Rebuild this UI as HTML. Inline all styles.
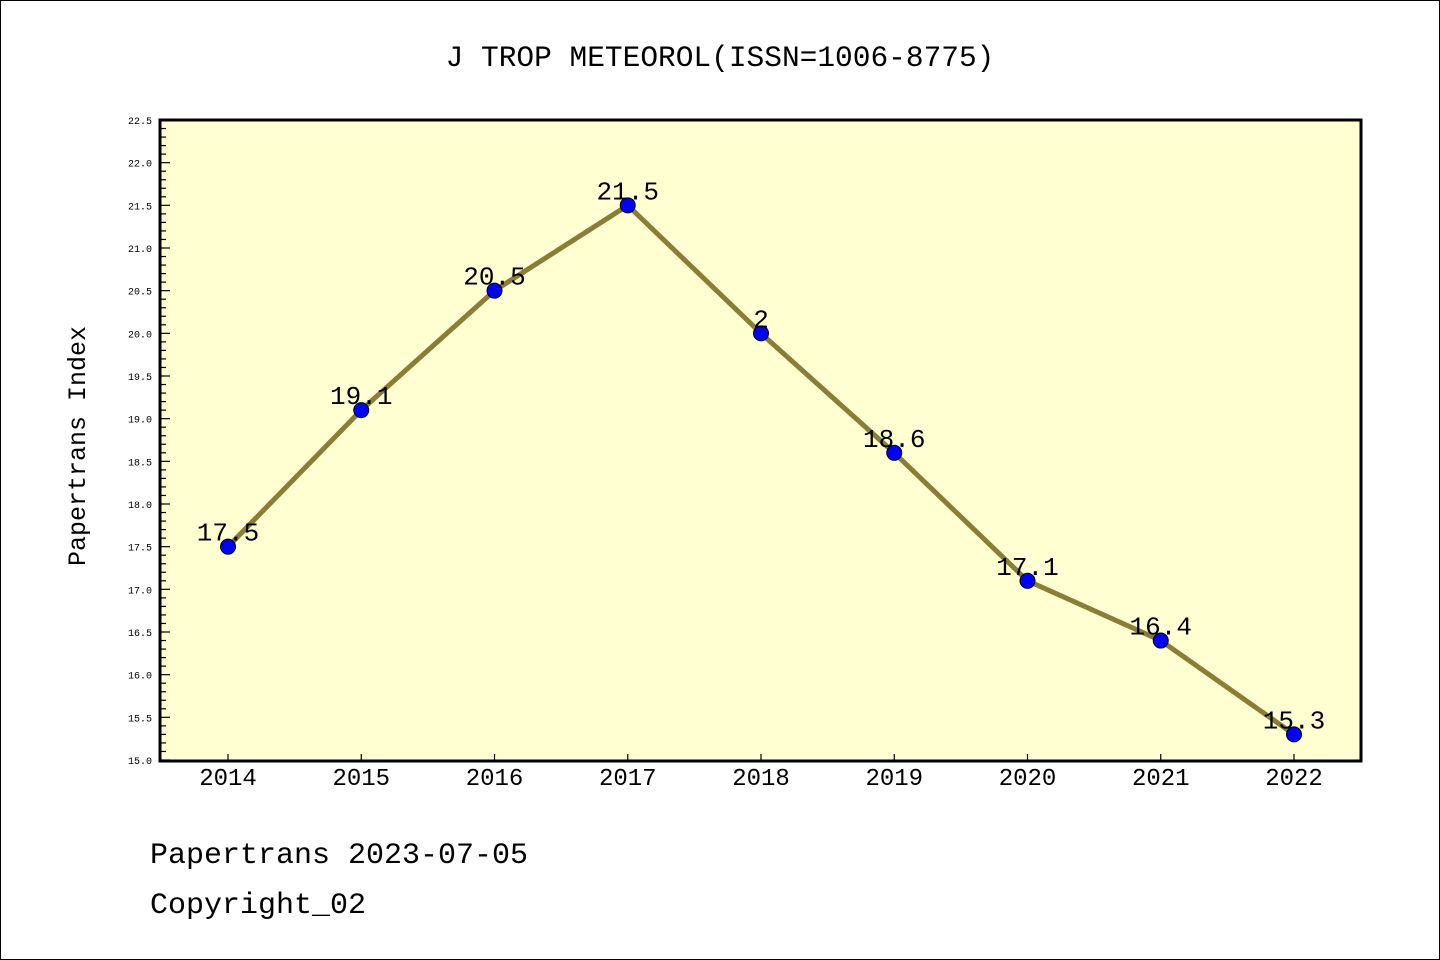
<!DOCTYPE html>
<html><head><meta charset="utf-8"><style>
body{margin:0;background:#fff}
svg{display:block}
text{font-family:"Liberation Mono","WenQuanYi Zen Hei",monospace}
</style></head><body>
<svg id="c" width="1440" height="960">
<rect x="0.5" y="0.5" width="1439" height="959" fill="#fff" stroke="#000"/>
<text x="720" y="66" text-anchor="middle" font-size="29.5">J TROP METEOROL(ISSN=1006-8775)</text>
<rect x="160" y="120" width="1201" height="641" fill="#ffffd2"/>
<g id="ax"></g>
<rect x="160" y="120" width="1201" height="641" fill="none" stroke="#000" stroke-width="3"/>
<text transform="translate(85,446) rotate(-90)" text-anchor="middle" font-size="25">Papertrans Index</text>
<text x="150" y="863" font-size="30">Papertrans 2023-07-05</text>
<text x="150" y="913" font-size="30">Copyright_02</text>
</svg>
<script>
const years=["2014","2015","2016","2017","2018","2019","2020","2021","2022"];
const values=[17.5,19.1,20.5,21.5,20.0,18.6,17.1,16.4,15.3];
const valueLabels=["17.5","19.1","20.5","21.5","2","18.6","17.1","16.4","15.3"];
const yTicks=[15.0,15.5,16.0,16.5,17.0,17.5,18.0,18.5,19.0,19.5,20.0,20.5,21.0,21.5,22.0,22.5];
const NS="http://www.w3.org/2000/svg";
const g=document.getElementById('ax');
const Y=v=>760-(v-15)*(640/7.5);
const X=i=>228+i*133.25;
function mk(t,a){const e=document.createElementNS(NS,t);for(const k in a)e.setAttribute(k,a[k]);g.appendChild(e);return e;}
yTicks.forEach((v,i)=>{
  const y=Y(v);
  const l=mk('line',{x1:160,x2:170,y1:y,y2:y,stroke:'#000','stroke-width':1.2});
  
  
  const t=mk('text',{x:152,y:y+4,'text-anchor':'end','font-size':10});
  t.textContent=v.toFixed(1);
  
  
  if(i<yTicks.length-1){for(let k=1;k<5;k++){const ym=Y(v+k*0.1);
    const m=mk('line',{x1:160,x2:166,y1:ym,y2:ym,stroke:'#000','stroke-width':1.2});
    
    }}
});
years.forEach((yr,i)=>{
  const x=X(i);
  const l=mk('line',{x1:x,x2:x,y1:760,y2:754,stroke:'#000','stroke-width':1.2});
  
  
  const t=mk('text',{x:x,y:785,'text-anchor':'middle','font-size':24});
  t.textContent=yr;
  
  
});
const p=mk('polyline',{points:values.map((v,i)=>X(i)+','+Y(v)).join(' '),fill:'none',stroke:'#8b7d35','stroke-width':5});


values.forEach((v,i)=>{
  const c=mk('circle',{cx:X(i),cy:Y(v),r:7.5,fill:'#0000ff',stroke:'#000','stroke-width':1});
  
  
  const t=mk('text',{x:X(i),y:Y(v)-6,'text-anchor':'middle','font-size':26});
  t.textContent=valueLabels[i];
  
  
});
</script>
</body></html>
